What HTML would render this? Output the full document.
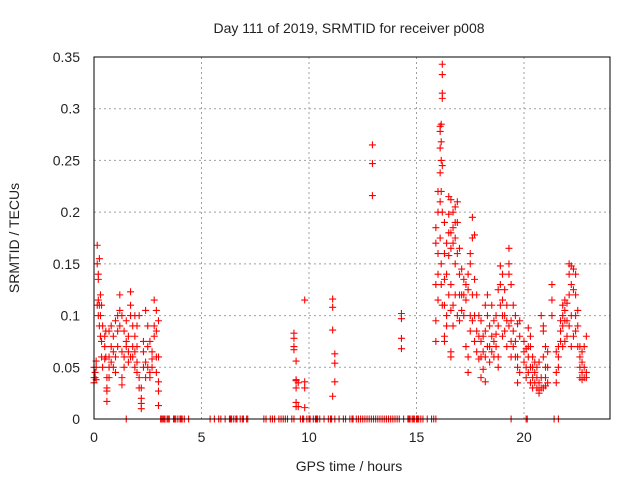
<!DOCTYPE html>
<html><head><meta charset="utf-8"><style>
body{margin:0;background:#fff;}
svg{display:block;font-family:"Liberation Sans",sans-serif;}
</style></head><body>
<svg id="chart" width="640" height="480" viewBox="0 0 640 480">
<rect width="640" height="480" fill="#fff"/>
<g id="grid"></g>
<g id="ticks"></g>
<g id="marks"></g>
<rect x="94" y="57" width="516" height="362" fill="none" stroke="#000" stroke-width="1"/>
<text x="349" y="33" font-size="14" text-anchor="middle" fill="#222">Day 111 of 2019, SRMTID for receiver p008</text>
<text x="349" y="471" font-size="14" text-anchor="middle" fill="#222">GPS time / hours</text>
<text transform="translate(19,238) rotate(-90)" font-size="14" text-anchor="middle" fill="#222">SRMTID / TECUs</text>
</svg>
<script>
const xTicks=[0,5,10,15,20];
const yTicks=[0,0.05,0.1,0.15,0.2,0.25,0.3,0.35];
const yTickLabels=["0","0.05","0.1","0.15","0.2","0.25","0.3","0.35"];
const groupHours=[0,0.05,0.1,0.15,0.2,0.25,0.3,0.35,0.4,0.5,0.55,0.6,0.7,0.8,0.9,1.0,1.1,1.2,1.3,1.4,1.5,1.6,1.7,1.8,1.9,2.0,2.1,2.2,2.3,2.4,2.5,2.6,2.7,2.8,2.9,3.0,
9.3,9.4,9.5,9.8,11.1,11.2,12.95,14.3,
15.9,16.0,16.1,16.15,16.2,16.3,16.4,16.5,16.6,16.7,16.8,16.9,17.0,17.1,17.2,17.3,17.4,17.5,17.6,17.7,17.8,17.9,18.0,18.1,18.2,18.3,18.4,18.5,18.6,18.7,18.8,18.9,19.0,19.1,19.2,19.3,19.4,19.5,19.6,19.7,19.8,20.0,20.1,20.2,20.3,20.4,20.5,20.6,20.7,20.8,20.9,21.0,21.1,21.3,21.5,21.6,21.7,21.8,21.9,22.0,22.1,22.2,22.3,22.4,22.5,22.6,22.7,22.8,22.9];
const groupValues=[[0.04,0.05,0.035],[0.045,0.04],[0.05,0.038,0.056],[0.11,0.15,0.168],[0.1,0.115,0.135,0.14],[0.155,0.11,0.09],[0.12,0.1,0.08],[0.11,0.075,0.06],[0.09,0.05],[0.08,0.07,0.058],[0.06,0.085],[0.03,0.027,0.017,0.04],[0.085,0.06,0.05,0.04],[0.07,0.09,0.055],[0.08,0.065,0.05],[0.095,0.06,0.045],[0.1,0.085,0.07],[0.12,0.105,0.09],[0.1,0.065,0.04,0.033],[0.085,0.06,0.05],[0.075,0.07,0.095],[0.065,0.08,0.055],[0.11,0.123,0.1,0.06],[0.09,0.07,0.06],[0.1,0.08,0.065,0.05],[0.09,0.07,0.055,0.045],[0.1,0.04,0.03],[0.02,0.015,0.01,0.03],[0.05,0.065,0.075],[0.055,0.04,0.105],[0.09,0.07,0.05],[0.075,0.045,0.04],[0.058,0.05,0.065],[0.115,0.09,0.08],[0.105,0.085,0.06,0.045],[0.095,0.06,0.036,0.027,0.013],
[0.083,0.078,0.07,0.067],[0.037,0.03,0.016,0.012,0.056,0.038],[0.035,0.012],[0.115,0.036,0.03,0.011],[0.116,0.108,0.086,0.022],[0.063,0.054,0.036],[0.265,0.247,0.216],[0.102,0.097,0.078,0.068],
[0.075,0.095,0.13,0.17,0.185],[0.22,0.2,0.16,0.115,0.14],[0.283,0.278,0.262,0.238,0.21,0.175],[0.285,0.268,0.25,0.22,0.15,0.13],[0.343,0.333,0.31,0.315,0.245,0.2,0.11],[0.19,0.16,0.135,0.11,0.08,0.075],[0.14,0.17,0.1,0.09],[0.215,0.198,0.18,0.158,0.12],[0.212,0.18,0.165,0.13,0.105,0.065,0.06],[0.2,0.185,0.17,0.11,0.09],[0.205,0.19,0.175,0.15,0.12],[0.19,0.21,0.16,0.1],[0.165,0.14,0.12,0.095],[0.145,0.12,0.105],[0.135,0.12,0.1],[0.13,0.115,0.07],[0.14,0.125,0.06,0.045],[0.16,0.15,0.1,0.085],[0.195,0.175,0.12,0.095],[0.178,0.135,0.1,0.075],[0.12,0.085,0.065],[0.1,0.08,0.058],[0.095,0.075,0.06,0.04],[0.08,0.065,0.048],[0.11,0.085,0.06,0.036],[0.12,0.1,0.07],[0.09,0.07,0.055],[0.11,0.08,0.065],[0.095,0.075,0.06],[0.1,0.082,0.07],[0.125,0.09,0.06,0.05],[0.148,0.13,0.11],[0.14,0.115,0.1,0.08],[0.125,0.1,0.085],[0.11,0.095,0.07],[0.165,0.15,0.14,0.09],[0.13,0.095,0.075,0.06],[0.11,0.085,0.07],[0.1,0.075,0.06],[0.092,0.06,0.05,0.035],[0.095,0.08,0.045],[0.075,0.065,0.055],[0.068,0.05,0.04],[0.088,0.07,0.06,0.045],[0.08,0.07,0.05,0.035],[0.06,0.05,0.04,0.03],[0.055,0.045,0.035],[0.05,0.04,0.03],[0.055,0.035,0.028,0.025],[0.1,0.04,0.03],[0.09,0.085,0.06,0.03],[0.07,0.05,0.04,0.032],[0.065,0.05,0.035],[0.13,0.115,0.1],[0.065,0.045,0.035],[0.07,0.06,0.05],[0.095,0.085,0.075],[0.11,0.1,0.09,0.07],[0.115,0.105,0.095,0.075],[0.112,0.095,0.08],[0.15,0.14,0.12,0.09],[0.148,0.13,0.1,0.07],[0.145,0.125,0.08],[0.14,0.12,0.1,0.085],[0.105,0.09,0.07],[0.07,0.06,0.05,0.04],[0.065,0.055,0.045,0.038],[0.07,0.05,0.04],[0.08,0.045,0.04]];
const zeroHours=[1.5,3.1,3.15,3.2,3.25,3.3,3.4,3.45,3.5,3.7,3.75,3.8,3.9,4.0,4.05,4.1,4.2,4.4,5.4,5.6,5.8,5.9,6.1,6.3,6.35,6.4,6.5,6.6,6.65,6.8,6.9,6.95,7.1,7.15,7.9,8.0,8.2,8.3,8.4,8.6,8.7,8.8,8.9,9.0,9.2,9.3,9.6,9.7,9.75,9.9,10.0,10.05,10.2,10.3,10.35,10.4,10.5,10.7,10.9,11.0,11.05,11.2,11.4,11.6,11.7,11.9,12.0,12.05,12.2,12.3,12.4,12.5,12.6,12.7,12.8,12.9,13.0,13.1,13.2,13.3,13.4,13.5,13.6,13.7,13.8,13.9,14.0,14.1,14.2,14.4,14.6,14.65,14.7,14.8,14.85,14.9,15.0,15.05,15.1,15.2,15.3,15.5,15.7,15.8,15.9,19.4,20.1,20.15,21.4,21.6];

const X0=94,X1=610,Y0=419,Y1=57,XMAX=24,YMAX=0.35;
const sx=h=>X0+(X1-X0)*h/XMAX;
const sy=v=>Y0-(Y0-Y1)*v/YMAX;
const NS="http://www.w3.org/2000/svg";
const grid=document.getElementById('grid'),ticks=document.getElementById('ticks'),marks=document.getElementById('marks');
function mk(tag,attrs,parent){const e=document.createElementNS(NS,tag);for(const k in attrs)e.setAttribute(k,attrs[k]);parent.appendChild(e);return e;}
xTicks.forEach(t=>{
  const x=sx(t);
  if(t>0){const g=mk('line',{x1:x,y1:Y0,x2:x,y2:Y1,stroke:'#a0a0a0','stroke-dasharray':'2,3'},grid);
  
  }
  const tl=mk('text',{x:x,y:442,'font-size':14,'text-anchor':'middle',fill:'#222'},ticks);
  tl.textContent=String(t);
  
  
});
yTicks.forEach((t,i)=>{
  const y=sy(t);
  if(t>0&&t<YMAX){const g=mk('line',{x1:X0,y1:y,x2:X1,y2:y,stroke:'#a0a0a0','stroke-dasharray':'2,3'},grid);
  
  }
  const tl=mk('text',{x:80,y:y+5,'font-size':14,'text-anchor':'end',fill:'#222'},ticks);
  tl.textContent=yTickLabels[i];
  
  
});
function plus(h,v){
  const x=sx(h),y=sy(v);
  const p=mk('path',{d:`M${x-3.5},${y}h7M${x},${y-3.5}v7`,stroke:'#f00','stroke-width':1.1,fill:'none'},marks);
  
  
}
groupHours.forEach((h,i)=>groupValues[i].forEach(v=>plus(h,v)));
zeroHours.forEach(h=>plus(h,0));
</script>
</body></html>
